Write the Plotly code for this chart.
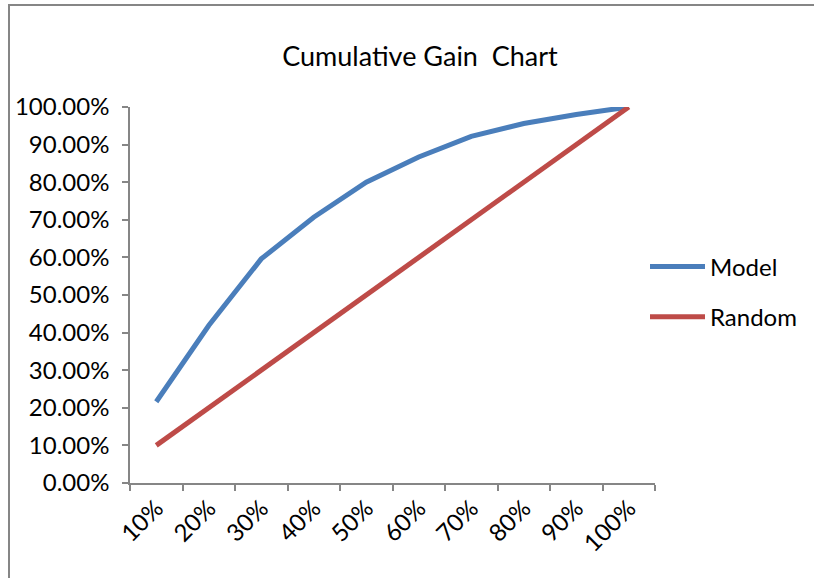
import plotly.graph_objects as go

categories = ["10%", "20%", "30%", "40%", "50%", "60%", "70%", "80%", "90%", "100%"]
model = [0.216, 0.419, 0.596, 0.707, 0.800, 0.867, 0.922, 0.956, 0.980, 1.000]
random_ = [0.10, 0.20, 0.30, 0.40, 0.50, 0.60, 0.70, 0.80, 0.90, 1.00]

FONT = "Lato"
W, H = 814, 578
L, R, T, B = 130, 655, 107, 483

fig = go.Figure()
fig.add_trace(go.Scatter(x=categories, y=model, mode="lines", name="Model",
                         legendgroup="m",
                         line=dict(color="#4A7EBB", width=5)))
fig.add_trace(go.Scatter(x=categories, y=random_, mode="lines", name="Random",
                         legendgroup="r",
                         line=dict(color="#BE4B48", width=5)))

def px2x(px):
    return (px - L) / (R - L)

def py2y(py):
    return (B - py) / (B - T)

border = dict(color="#868686", width=2)

fig.update_layout(
    width=W, height=H,
    margin=dict(l=L, r=W - R, t=T, b=H - B),
    paper_bgcolor="white", plot_bgcolor="white",
    font=dict(family=FONT, size=24, color="black"),
    title=dict(text="Cumulative Gain  Chart", x=px2x(420), xref="paper",
               xanchor="center", y=1 - 57 / H, yanchor="middle",
               font=dict(size=27, family=FONT, color="black")),
    showlegend=True,
    legend=dict(x=px2x(645), y=py2y(292), xanchor="left", yanchor="middle",
                xref="paper", yref="paper", bgcolor="rgba(0,0,0,0)",
                font=dict(size=24, family=FONT), itemwidth=55,
                tracegroupgap=16),
    xaxis=dict(type="category", tickson="boundaries", range=[-0.5, 9.5],
               showline=True, linecolor="#868686", linewidth=1.5,
               ticks="outside", ticklen=6, tickcolor="#868686", tickwidth=1.5,
               tickangle=-45, showgrid=False, zeroline=False,
               tickfont=dict(size=24, family=FONT)),
    yaxis=dict(range=[0, 1], dtick=0.1, tickformat=".2%",
               showline=True, linecolor="#868686", linewidth=1.5,
               ticks="outside", ticklen=6, tickcolor="#868686", tickwidth=1.5,
               showgrid=False, zeroline=False, ticklabelstandoff=8,
               tickfont=dict(size=24, family=FONT)),
    shapes=[
        dict(type="line", xref="paper", yref="paper",
             x0=px2x(9), x1=px2x(W + 5), y0=py2y(5), y1=py2y(5), line=border),
        dict(type="line", xref="paper", yref="paper",
             x0=px2x(9), x1=px2x(9), y0=py2y(4), y1=py2y(H + 5), line=border),
    ],
)

fig.write_html("out.html", config={"displayModeBar": False},
               post_script="document.body.style.margin='0';document.body.style.overflow='hidden';")
